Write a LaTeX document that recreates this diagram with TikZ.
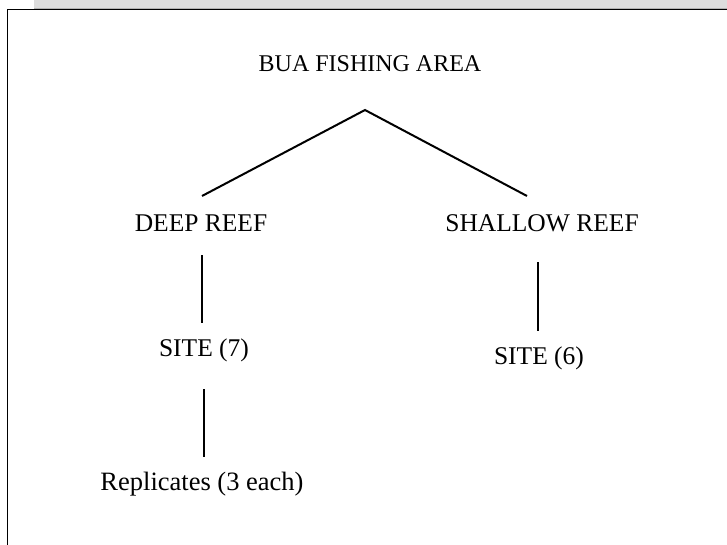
\documentclass[tikz,border=0pt]{standalone}
\usepackage{fontspec}
\setmainfont{Liberation Serif}
\begin{document}
\begin{tikzpicture}[x=1pt,y=-1pt,
  lbl/.style={anchor=base, inner sep=0pt, font=\fontsize{25.5}{30}\selectfont},
  conn/.style={line width=2pt, line cap=butt}]
\useasboundingbox (0,0) rectangle (727,545);
\fill[white] (0,0) rectangle (727,545);
% top gray band
\fill[gray!27] (34,0) rectangle (727,8);
\draw[gray!60, line width=0.8pt] (34,8.2) -- (727,8.2);
% frame
\draw[black, line width=1.2pt] (7.5,545) -- (7.5,9.8) -- (727,9.8);
% labels
\node[lbl, font=\fontsize{24}{28}\selectfont] (top) at (370,72) {BUA FISHING AREA};
\node[lbl] (deep) at (201,231) {DEEP REEF};
\node[lbl] (shallow) at (542,231) {SHALLOW REEF};
\node[lbl] (site7) at (204,356) {SITE (7)};
\node[lbl] (site6) at (539,364) {SITE (6)};
\node[lbl, font=\fontsize{26.5}{30}\selectfont] (rep) at (202,490) {Replicates (3 each)};
% connector ends
\coordinate (apex) at (365,110);
\coordinate (dtop) at (202,196);
\coordinate (stop) at (527,196);
\coordinate (d1) at (202,255);
\coordinate (d2) at (202,323);
\coordinate (s1) at (538,262);
\coordinate (s2) at (538,331);
\coordinate (r1) at (204,389);
\coordinate (r2) at (204,457);
\draw[conn] (dtop) -- (apex) -- (stop);
\draw[conn] (d1) -- (d2);
\draw[conn] (s1) -- (s2);
\draw[conn] (r1) -- (r2);
\end{tikzpicture}
\end{document}
